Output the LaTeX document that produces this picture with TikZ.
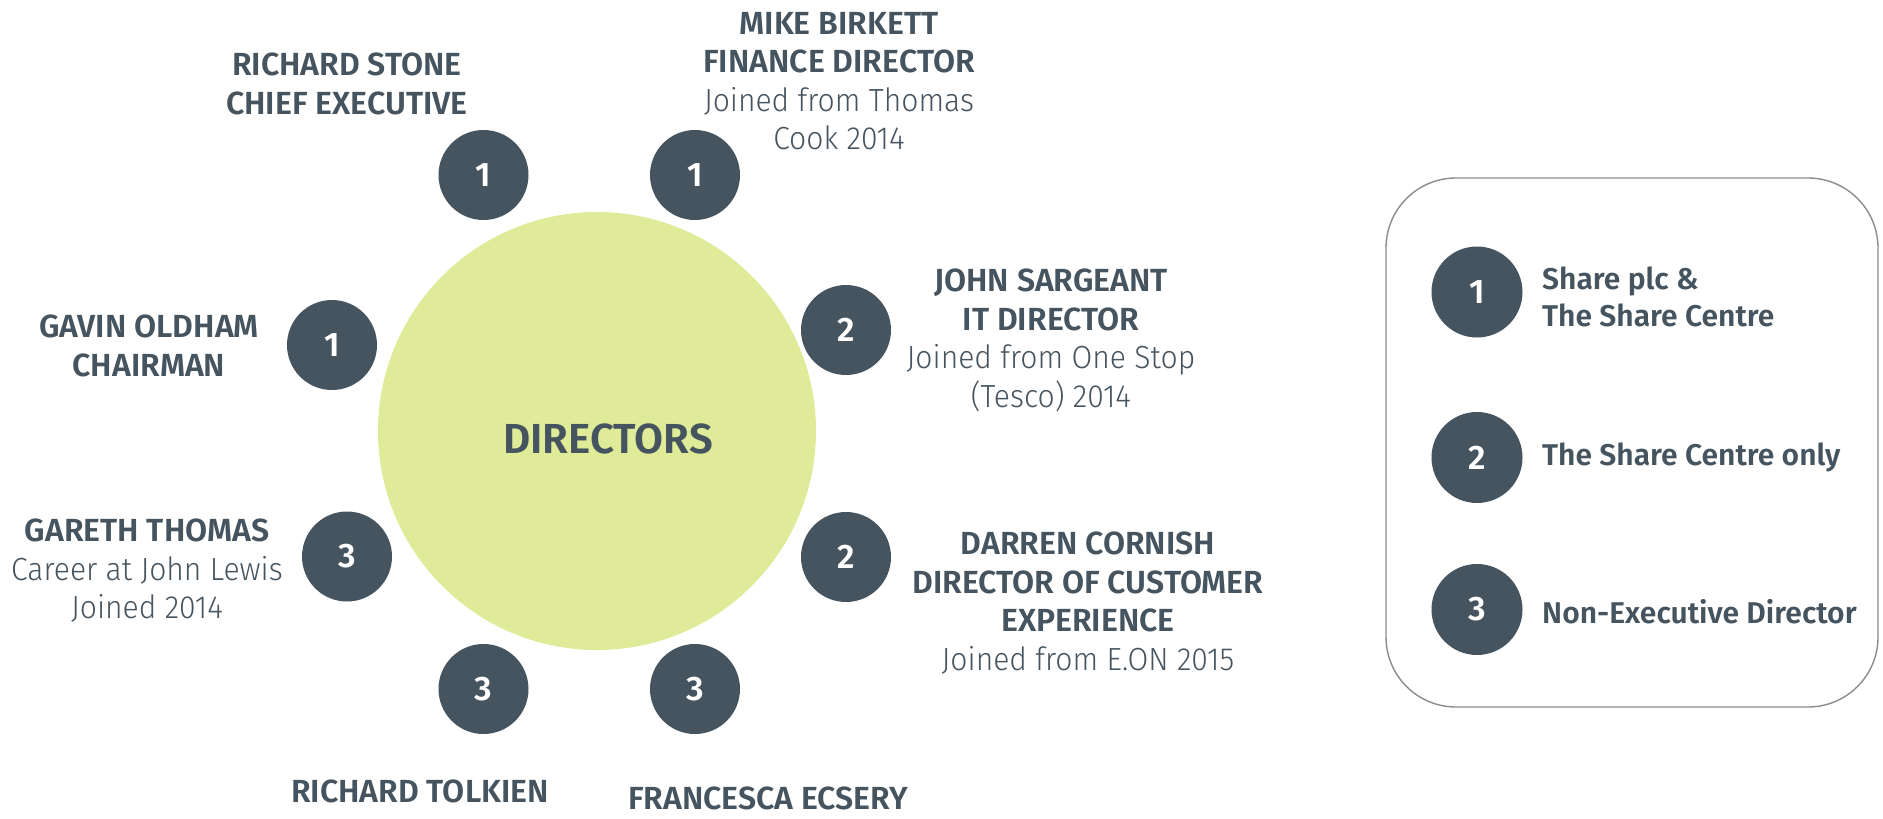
\documentclass[tikz,border=0pt]{standalone}
\usepackage{fontspec}
\setmainfont{Fira Sans}
\newfontfamily\namefont{Fira Sans SemiBold}
\newfontfamily\descfont[FakeStretch=0.94]{Fira Sans Light}
\newfontfamily\keyfont{Fira Sans SemiBold}
\definecolor{slate}{HTML}{45545F}
\definecolor{lime}{HTML}{DFEB98}

\begin{document}
\begin{tikzpicture}[x=1pt, y=-1pt,
  seat/.style={circle, fill=slate, minimum size=90pt, inner sep=0pt, text=white,
    font=\keyfont\fontsize{34}{34}\selectfont},
  who/.style={align=center, anchor=north, inner sep=0pt, text=slate,
    font=\fontsize{32}{38.5}\selectfont},
  nameonly/.style={anchor=north, inner sep=0pt, text=slate,
    font=\namefont\fontsize{32}{38.5}\selectfont},
  keytext/.style={align=left, inner sep=0pt, text=slate,
    font=\keyfont\fontsize{30}{37}\selectfont}]
\useasboundingbox (0,0) rectangle (1883,819);

% the table
\node[circle, fill=lime, minimum size=438pt, inner sep=0pt] (table) at (597,431) {};
\node[anchor=base, inner sep=0pt, text=slate, font=\keyfont\fontsize{42}{42}\selectfont]
  (title) at (608,453) {DIRECTORS};

% seats round the table
\foreach \px/\py/\n/\name in {483.5/175/1/stone, 695/175/1/birkett, 332/345/1/oldham,
    846/330/2/sargeant, 347/556.5/3/thomas, 846/557/2/cornish,
    483.5/689/3/tolkien, 695/689/3/ecsery} {
  \node[seat] (seat \name) at (\px,\py) {\n};
}

% who sits where
\node[who] (label stone) at (347,53) {\namefont RICHARD STONE\\\namefont CHIEF EXECUTIVE};
\node[who] (label birkett) at (839,12) {\namefont MIKE BIRKETT\\\namefont FINANCE DIRECTOR\\
  \descfont Joined from Thomas\\\descfont Cook 2014};
\node[who] (label oldham) at (149,315) {\namefont GAVIN OLDHAM\\\namefont CHAIRMAN};
\node[who] (label sargeant) at (1051,269) {\namefont JOHN SARGEANT\\\namefont IT DIRECTOR\\
  \descfont Joined from One Stop\\\descfont (Tesco) 2014};
\node[who] (label thomas) at (147,519) {\namefont GARETH THOMAS\\
  \descfont Career at John Lewis\\\descfont Joined 2014};
\node[who] (label cornish) at (1088,532) {\namefont DARREN CORNISH\\
  \namefont DIRECTOR OF CUSTOMER\\\namefont EXPERIENCE\\\descfont Joined from E.ON 2015};
\node[nameonly] (label tolkien) at (420,780) {RICHARD TOLKIEN};
\node[nameonly] (label ecsery) at (768,787) {FRANCESCA ECSERY};

% key
\draw[draw=black!45, line width=1.4pt, rounded corners=70pt] (1386,178) rectangle (1878,707);
\foreach \py/\n in {292/1, 457.5/2, 609.5/3} {
  \node[seat, minimum size=91pt] (key \n) at (1477,\py) {\n};
}
\node[keytext, anchor=base west] (key text 1) at (1542,289) {Share plc \&};
\node[keytext, anchor=base west] (key text 1b) at (1542,326) {The Share Centre};
\node[keytext, anchor=base west] (key text 2) at (1542,465) {The Share Centre only};
\node[keytext, anchor=base west] (key text 3) at (1542,623) {Non-Executive Director};
\end{tikzpicture}
\end{document}
